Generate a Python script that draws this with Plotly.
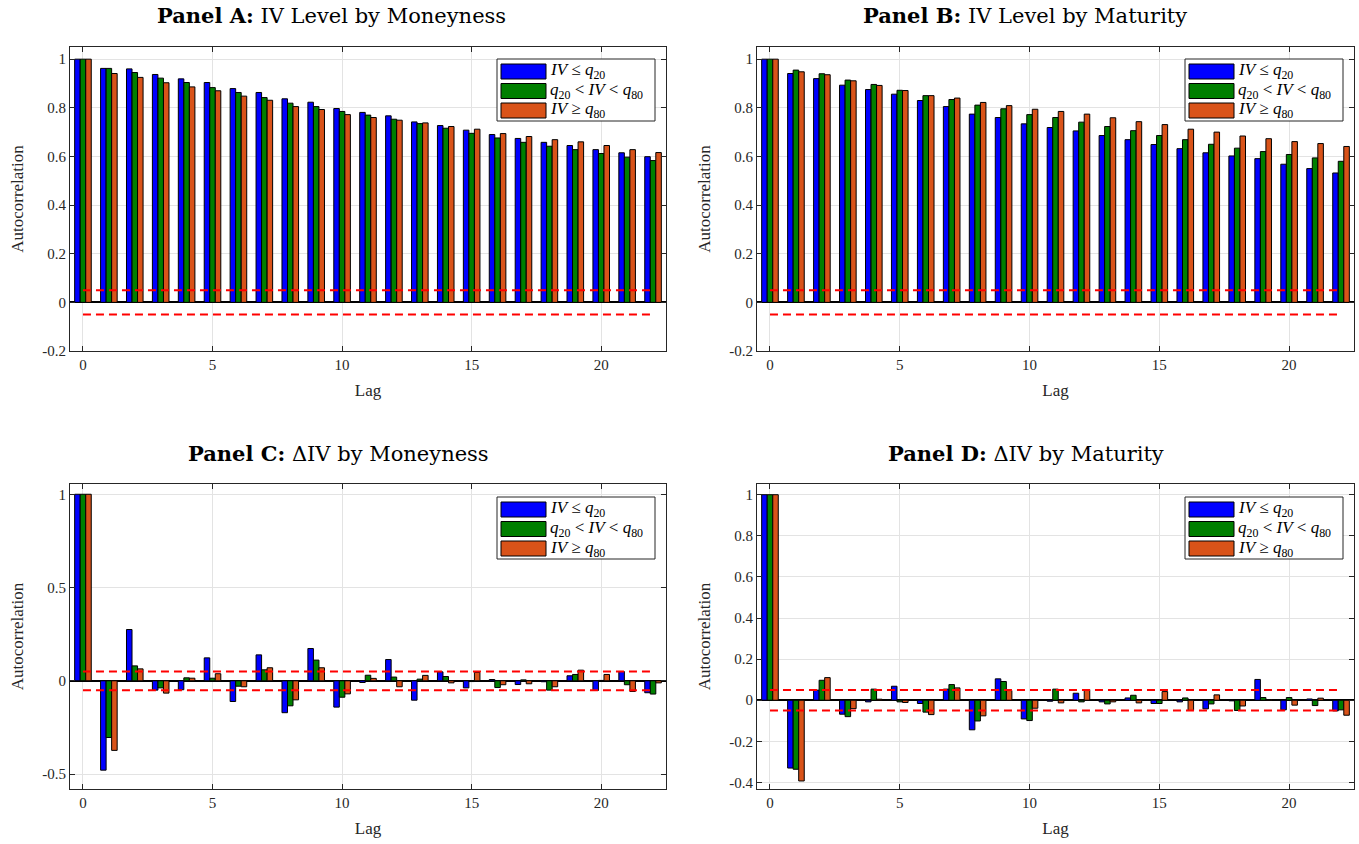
import plotly.graph_objects as go

lags = list(range(23))

# Panel A: IV level by moneyness
a_low = [1.0, 0.962, 0.960, 0.937, 0.919, 0.904, 0.879, 0.863, 0.837, 0.823, 0.797, 0.781,
         0.767, 0.742, 0.727, 0.708, 0.690, 0.674, 0.658, 0.645, 0.628, 0.615, 0.599]
a_mid = [1.0, 0.962, 0.945, 0.922, 0.904, 0.883, 0.863, 0.842, 0.819, 0.805, 0.785, 0.770,
         0.753, 0.735, 0.716, 0.695, 0.676, 0.658, 0.642, 0.628, 0.612, 0.597, 0.583]
a_high = [1.0, 0.941, 0.925, 0.903, 0.886, 0.870, 0.848, 0.831, 0.805, 0.793, 0.772, 0.760,
          0.749, 0.738, 0.723, 0.712, 0.694, 0.682, 0.669, 0.660, 0.645, 0.628, 0.616]

# Panel B: IV level by maturity
b_low = [1.0, 0.941, 0.920, 0.893, 0.875, 0.856, 0.830, 0.805, 0.774, 0.760, 0.734, 0.719,
         0.705, 0.686, 0.669, 0.649, 0.632, 0.615, 0.602, 0.591, 0.568, 0.550, 0.532]
b_mid = [1.0, 0.955, 0.940, 0.914, 0.896, 0.872, 0.850, 0.834, 0.811, 0.796, 0.772, 0.760,
         0.741, 0.723, 0.706, 0.686, 0.669, 0.650, 0.634, 0.620, 0.608, 0.594, 0.580]
b_high = [1.0, 0.948, 0.936, 0.911, 0.892, 0.871, 0.850, 0.840, 0.822, 0.809, 0.794, 0.785,
          0.774, 0.759, 0.743, 0.731, 0.712, 0.700, 0.684, 0.673, 0.661, 0.653, 0.641]

# Panel C: delta IV by moneyness
c_low = [1.0, -0.479, 0.275, -0.050, -0.048, 0.123, -0.111, 0.139, -0.171, 0.173, -0.141, -0.009,
         0.114, -0.104, 0.048, -0.038, 0.007, -0.020, -0.005, 0.027, -0.052, 0.050, -0.064]
c_mid = [1.0, -0.304, 0.080, -0.038, 0.016, 0.014, -0.029, 0.059, -0.134, 0.111, -0.088, 0.030,
         0.020, 0.009, 0.023, -0.004, -0.036, 0.005, -0.050, 0.034, 0.002, -0.021, -0.071]
c_high = [1.0, -0.373, 0.064, -0.066, 0.014, 0.038, -0.032, 0.070, -0.102, 0.070, -0.070, 0.013,
          -0.032, 0.029, -0.011, 0.045, -0.021, -0.016, -0.032, 0.057, 0.034, -0.057, -0.011]

# Panel D: delta IV by maturity
d_low = [1.0, -0.330, 0.049, -0.068, -0.008, 0.068, -0.016, 0.054, -0.144, 0.104, -0.091, -0.005,
         0.034, -0.008, 0.011, -0.016, -0.008, -0.042, -0.003, 0.101, -0.047, 0.006, -0.052]
d_mid = [1.0, -0.336, 0.097, -0.080, 0.054, -0.008, -0.058, 0.076, -0.101, 0.091, -0.099, 0.054,
         -0.008, -0.018, 0.024, -0.016, 0.011, -0.018, -0.050, 0.013, 0.013, -0.026, -0.047]
d_high = [1.0, -0.393, 0.110, -0.041, 0.005, -0.011, -0.070, 0.060, -0.076, 0.047, -0.039, -0.013,
          0.052, -0.008, -0.013, 0.042, -0.050, 0.026, -0.028, 0.003, -0.024, 0.010, -0.073]

conf_band = 0.05
band_lags = [0, 22]

series_names = ["<i>IV</i> ≤ <i>q</i><sub>20</sub>",
                "<i>q</i><sub>20</sub> &lt; <i>IV</i> &lt; <i>q</i><sub>80</sub>",
                "<i>IV</i> ≥ <i>q</i><sub>80</sub>"]
colors = ["#0000FF", "#007F00", "#D95319"]

titles = ["<b>Panel A:</b> IV Level by Moneyness",
          "<b>Panel B:</b> IV Level by Maturity",
          "<b>Panel C:</b> ΔIV by Moneyness",
          "<b>Panel D:</b> ΔIV by Maturity"]

x_ticks = [0, 5, 10, 15, 20]
y_ticks_level = [-0.2, 0, 0.2, 0.4, 0.6, 0.8, 1]
y_labels_level = ["-0.2", "0", "0.2", "0.4", "0.6", "0.8", "1"]
y_ticks_c = [-0.5, 0, 0.5, 1]
y_labels_c = ["-0.5", "0", "0.5", "1"]
y_ticks_d = [-0.4, -0.2, 0, 0.2, 0.4, 0.6, 0.8, 1]
y_labels_d = ["-0.4", "-0.2", "0", "0.2", "0.4", "0.6", "0.8", "1"]

panels = [
    (a_low, a_mid, a_high, y_ticks_level, y_labels_level, [-0.2, 1.05]),
    (b_low, b_mid, b_high, y_ticks_level, y_labels_level, [-0.2, 1.05]),
    (c_low, c_mid, c_high, y_ticks_c, y_labels_c, [-0.58, 1.055]),
    (d_low, d_mid, d_high, y_ticks_d, y_labels_d, [-0.432, 1.052]),
]

# the page body margin is removed (post_script), so the figure fills the window
W, H = 1359, 844
FONT = "Liberation Serif"
TFONT = "DejaVu Serif"

# pixel layout (window coordinates) of axes boxes: (left, right, top, bottom)
boxes = [(70, 666, 47, 351), (757, 1354, 47, 351), (70, 666, 484, 789), (757, 1354, 484, 789)]
title_pos = [(331, 16), (1025, 16), (338, 453), (1026, 453)]
legend_box = [(497, 59), (1185, 59), (497, 497), (1185, 497)]  # left, top in px
LEG_W, LEG_H = 158, 62


def px_x(v):
    return min(1.0, max(0.0, v / W))


def px_y(v):
    return min(1.0, max(0.0, 1 - v / H))


fig = go.Figure()
shapes = []
annotations = []
layout = dict(width=W, height=H, margin=dict(l=0, r=0, t=0, b=0, autoexpand=False),
              paper_bgcolor="white", plot_bgcolor="white", showlegend=False,
              barmode="group", bargap=0.36, bargroupgap=0.0,
              font=dict(family=FONT, size=14, color="#262626"))

for i, (lo, mid, hi, yt, yl, yr) in enumerate(panels):
    n = i + 1
    xa = "x" if n == 1 else f"x{n}"
    ya = "y" if n == 1 else f"y{n}"
    for vals, name, col in zip([lo, mid, hi], series_names, colors):
        fig.add_trace(go.Bar(x=lags, y=vals, name=name,
                             marker=dict(color=col, line=dict(color="black", width=1)),
                             xaxis=xa, yaxis=ya, offsetgroup=name))
    for s in (1, -1):
        fig.add_trace(go.Scatter(x=band_lags, y=[s * conf_band] * 2, mode="lines",
                                 line=dict(color="#FF0000", width=2, dash="8px,5px"),
                                 xaxis=xa, yaxis=ya, hoverinfo="skip"))
    l, r, t, b = boxes[i]
    axis_common = dict(showline=True, linecolor="#262626", linewidth=1, mirror="ticks",
                       ticks="inside", ticklen=5, tickcolor="#262626", automargin=False,
                       showgrid=True, gridcolor="#E3E3E3", gridwidth=1,
                       tickfont=dict(family=FONT, size=15, color="#262626"))
    layout["xaxis" if n == 1 else f"xaxis{n}"] = dict(
        axis_common, domain=[px_x(l), px_x(r)], anchor=ya, range=[-0.5, 22.5],
        tickvals=x_ticks, zeroline=False,
        title=dict(text="Lag", font=dict(family=FONT, size=17, color="#262626"), standoff=12))
    layout["yaxis" if n == 1 else f"yaxis{n}"] = dict(
        axis_common, domain=[px_y(b), px_y(t)], anchor=xa, range=yr,
        tickvals=yt, ticktext=yl, zeroline=True, zerolinecolor="black", zerolinewidth=1.5,
        title=dict(text="Autocorrelation", font=dict(family=FONT, size=17, color="#262626"), standoff=14))

    # legend box drawn in paper coordinates
    lx, ly = legend_box[i]
    shapes.append(dict(type="rect", xref="paper", yref="paper",
                       x0=px_x(lx), x1=px_x(lx + LEG_W), y0=px_y(ly + LEG_H), y1=px_y(ly),
                       line=dict(color="#262626", width=1), fillcolor="white", layer="above"))
    for k, (name, col) in enumerate(zip(series_names, colors)):
        cy = ly + 12.5 + 19.5 * k
        shapes.append(dict(type="rect", xref="paper", yref="paper",
                           x0=px_x(lx + 4), x1=px_x(lx + 49), y0=px_y(cy + 7.5), y1=px_y(cy - 7.5),
                           line=dict(color="black", width=1), fillcolor=col, layer="above"))
        annotations.append(dict(text=name, x=px_x(lx + 51), y=px_y(cy), xref="paper", yref="paper",
                                xanchor="left", yanchor="middle", showarrow=False,
                                font=dict(family=FONT, size=17, color="black")))

    tx, ty = title_pos[i]
    annotations.append(dict(text=titles[i], x=px_x(tx), y=px_y(ty), xref="paper", yref="paper",
                            xanchor="center", yanchor="middle", showarrow=False,
                            font=dict(family=TFONT, size=21, color="black")))

layout["shapes"] = shapes
layout["annotations"] = annotations
fig.update_layout(**layout)
fig.write_html("out.html", config={"displayModeBar": False},
               post_script="document.body.style.margin='0px';")
